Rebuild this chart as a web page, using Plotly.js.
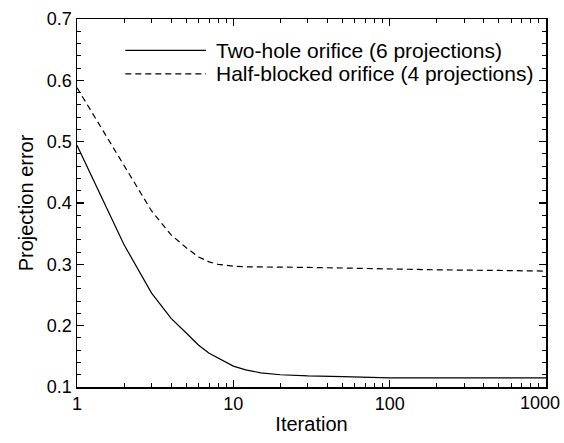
<!DOCTYPE html>
<html>
<head>
<meta charset="utf-8">
<script src="https://cdn.plot.ly/plotly-3.0.1.min.js"></script>
<style>html,body{margin:0;padding:0;background:#fff;}#chart{width:564px;height:443px;}</style>
</head>
<body>
<div id="chart"></div>
<script>
const iterations = [1, 2, 3, 4, 5, 6, 7, 8, 9, 10, 12, 15, 20, 30, 50, 80, 100, 200, 500, 1000];
const twoHole = [0.494, 0.332, 0.253, 0.212, 0.188, 0.168, 0.155, 0.147, 0.139, 0.134, 0.128, 0.123, 0.120, 0.118, 0.117, 0.116, 0.115, 0.115, 0.115, 0.115];
const halfBlocked = [0.588, 0.462, 0.387, 0.348, 0.327, 0.312, 0.304, 0.300, 0.298, 0.297, 0.296, 0.296, 0.295, 0.295, 0.294, 0.293, 0.292, 0.291, 0.290, 0.289];
const seriesNames = ["Two-hole orifice (6 projections)", "Half-blocked orifice (4 projections)"];
const xMajorTicks = [1, 10, 100, 1000];
const xTickText = ["1", "10", "100", ""];
const xMinorTicks = [2,3,4,5,6,7,8,9,20,30,40,50,60,70,80,90,200,300,400,500,600,700,800,900];
const yTicks = [0.1, 0.2, 0.3, 0.4, 0.5, 0.6, 0.7];

const font = {family: "Liberation Sans, Arial, Helvetica, sans-serif", color: "#000"};
const TICK_FS = 18, TITLE_FS = 20, LEG_FS = 21;

const traces = [
  {x: iterations, y: twoHole, mode: "lines", name: seriesNames[0], line: {color: "#000", width: 1.2}},
  {x: iterations, y: halfBlocked, mode: "lines", name: seriesNames[1], line: {color: "#000", width: 1.2, dash: "6px,4px"}}
];

const layout = {
  width: 564, height: 443,
  margin: {l: 77, r: 18, t: 19, b: 56},
  paper_bgcolor: "#fff", plot_bgcolor: "#fff",
  showlegend: false,
  font: Object.assign({size: TICK_FS}, font),
  xaxis: {
    type: "log", range: [0, 3],
    tickmode: "array", tickvals: xMajorTicks, ticktext: xTickText,
    ticks: "inside", ticklen: 7, tickwidth: 1.2, tickcolor: "#000",
    showline: true, linecolor: "#000", linewidth: 1.5, mirror: "ticks",
    showgrid: false, zeroline: false,
    tickfont: Object.assign({size: TICK_FS}, font),
    minor: {tickmode: "array", tickvals: xMinorTicks, ticks: "inside", ticklen: 4, tickwidth: 1, tickcolor: "#000", showgrid: false},
    title: {text: "Iteration", font: Object.assign({size: TITLE_FS}, font), standoff: 4}
  },
  yaxis: {
    range: [0.1, 0.7],
    tickmode: "array", tickvals: yTicks, ticktext: yTicks.map(v => v.toFixed(1)),
    ticks: "inside", ticklen: 7, tickwidth: 1.2, tickcolor: "#000",
    showline: true, linecolor: "#000", linewidth: 1.5, mirror: "ticks",
    showgrid: false, zeroline: false,
    tickfont: Object.assign({size: TICK_FS}, font),
    minor: {tick0: 0.1, dtick: 0.02, ticks: "inside", ticklen: 4, tickwidth: 1, tickcolor: "#000", showgrid: false},
    title: {text: "Projection error", font: Object.assign({size: TITLE_FS}, font), standoff: 8}
  },
  shapes: [
    {type: "line", xref: "paper", yref: "paper", x0: 0.103, x1: 0.275, y0: 0.915, y1: 0.915, line: {color: "#000", width: 1.2}},
    {type: "line", xref: "paper", yref: "paper", x0: 0.103, x1: 0.275, y0: 0.851, y1: 0.851, line: {color: "#000", width: 1.2, dash: "6px,4px"}}
  ],
  annotations: [
    {xref: "paper", yref: "paper", x: 0.292, y: 0.915, xanchor: "left", yanchor: "middle", text: seriesNames[0], showarrow: false, font: Object.assign({size: LEG_FS}, font)},
    {xref: "paper", yref: "paper", x: 0.292, y: 0.851, xanchor: "left", yanchor: "middle", text: seriesNames[1], showarrow: false, font: Object.assign({size: LEG_FS}, font)},
    {xref: "x", yref: "paper", x: Math.log10(xMajorTicks[3]), y: 0, yanchor: "top", xanchor: "right", xshift: 16, yshift: -4, text: String(xMajorTicks[3]), showarrow: false, font: Object.assign({size: TICK_FS}, font)}
  ]
};

Plotly.newPlot("chart", traces, layout, {displayModeBar: false, staticPlot: true});
</script>
</body>
</html>
